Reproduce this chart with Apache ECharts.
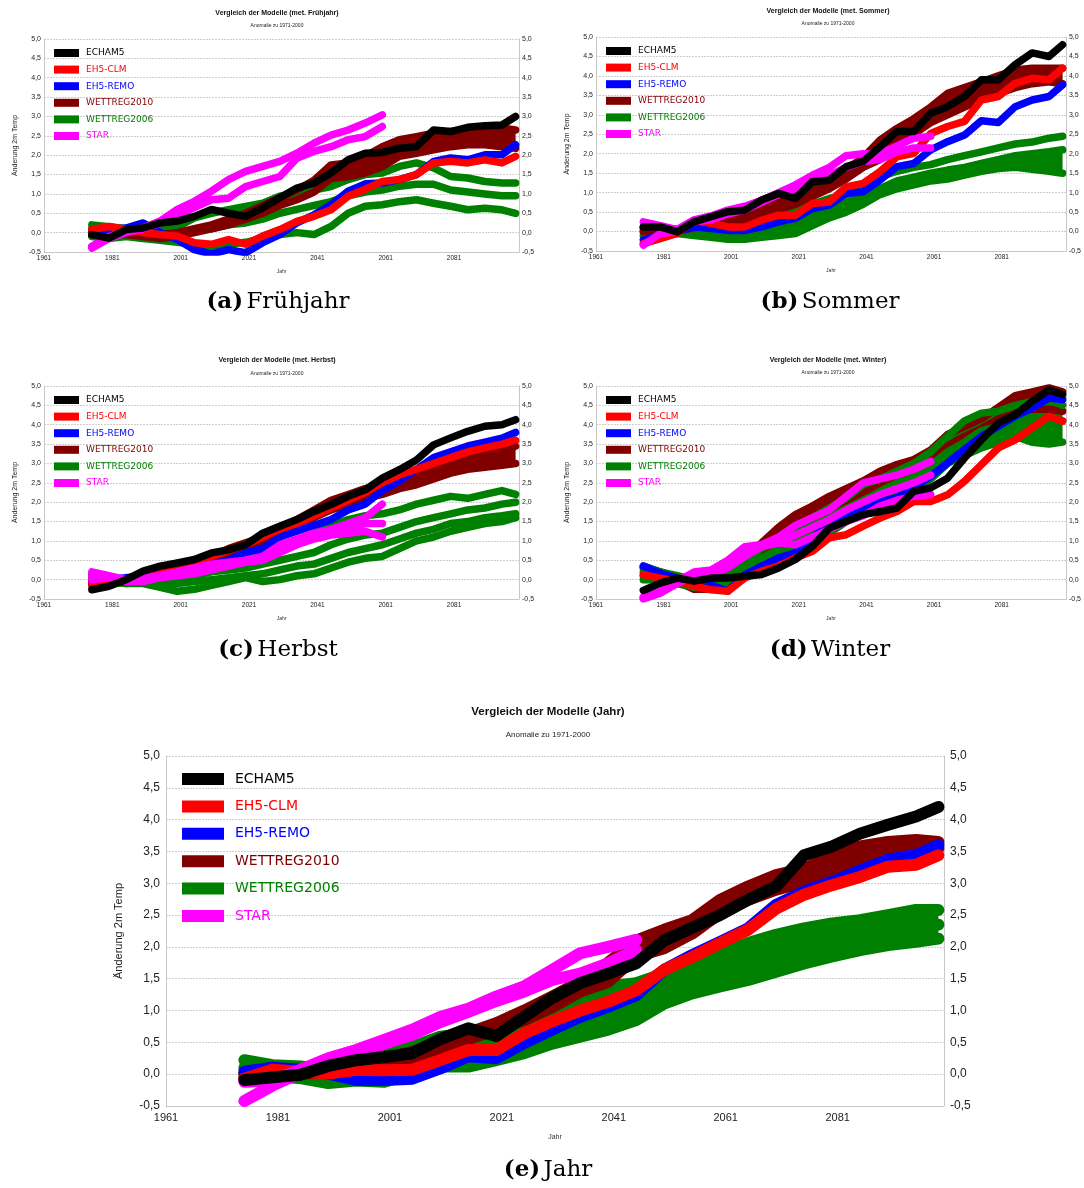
<!DOCTYPE html>
<html><head><meta charset="utf-8">
<script src="https://cdn.jsdelivr.net/npm/echarts@6/dist/echarts.min.js"></script>
<style>html,body{margin:0;padding:0;background:#fff}#c{width:1084px;height:1188px}</style>
</head><body><div id="c"></div>
<script>
// ---------- data ----------
const years = [1975,1980,1985,1990,1995,2000,2005,2010,2015,2020,2025,2030,2035,2040,2045,2050,2055,2060,2065,2070,2075,2080,2085,2090,2095,2099];
const starYears = [1975,1980,1985,1990,1995,2000,2005,2010,2015,2020,2025,2030,2035,2040,2045,2050,2055,2060];
const starYearsJahr = [1975,1980,1985,1990,1995,2000,2005,2010,2015,2020,2025,2030,2035,2040,2045];
const yTicks = [-0.5,0,0.5,1,1.5,2,2.5,3,3.5,4,4.5,5];
const modelNames = ['ECHAM5','EH5-CLM','EH5-REMO','WETTREG2010','WETTREG2006','STAR'];
const modelColors = ['#000000','#ff0000','#0000ff','#800000','#008000','#ff00ff'];

// (a) Frühjahr
const a_echam5 = [-0.05,-0.14,0.08,0.12,0.25,0.3,0.42,0.6,0.5,0.42,0.64,0.9,1.15,1.28,1.54,1.88,2.05,2.07,2.18,2.22,2.65,2.61,2.72,2.76,2.78,3.0];
const a_clm = [0.08,0.16,0.08,0.0,-0.05,-0.09,-0.26,-0.3,-0.18,-0.3,-0.09,0.08,0.29,0.42,0.59,0.94,1.12,1.32,1.37,1.5,1.8,1.84,1.8,1.88,1.8,1.97];
const a_remo = [0.08,0.08,0.12,0.25,0.0,-0.18,-0.44,-0.55,-0.44,-0.52,-0.26,-0.05,0.25,0.46,0.72,1.07,1.26,1.28,1.37,1.5,1.84,1.93,1.88,2.01,2.01,2.27];
const a_w2010_hi = [0.05,0.1,0.05,0.0,-0.05,0.0,0.1,0.2,0.35,0.5,0.7,0.9,1.1,1.35,1.75,1.8,1.97,2.22,2.4,2.48,2.57,2.61,2.65,2.7,2.7,2.65];
const a_w2010_lo = [-0.05,0.0,-0.05,-0.1,-0.15,-0.1,0.0,0.1,0.2,0.35,0.5,0.7,0.85,1.05,1.4,1.45,1.54,1.7,1.97,2.05,2.14,2.22,2.27,2.27,2.22,2.18];
const a_w2006_hi = [0.2,0.15,0.1,0.05,0.1,0.15,0.38,0.5,0.59,0.68,0.76,0.94,1.02,1.1,1.19,1.37,1.5,1.54,1.71,1.8,1.67,1.45,1.41,1.32,1.28,1.28];
const a_w2006_mid = [0.05,0.0,0.0,-0.05,-0.05,0.0,0.05,0.1,0.2,0.25,0.35,0.5,0.6,0.7,0.8,0.95,1.05,1.1,1.2,1.25,1.25,1.1,1.05,1.0,0.95,0.95];
const a_w2006_lo = [-0.1,-0.15,-0.1,-0.15,-0.2,-0.25,-0.3,-0.35,-0.3,-0.25,-0.15,-0.05,0.0,-0.05,0.16,0.5,0.68,0.72,0.8,0.85,0.76,0.68,0.59,0.63,0.59,0.5];
const a_star_hi = [-0.35,-0.1,0.05,0.12,0.3,0.6,0.81,1.07,1.37,1.58,1.71,1.84,2.05,2.31,2.52,2.65,2.83,3.04];
const a_star_lo = [-0.4,-0.15,0.0,0.1,0.25,0.45,0.65,0.85,0.89,1.19,1.32,1.45,1.92,2.1,2.22,2.4,2.48,2.74];

// (b) Sommer
const b_echam5 = [0.12,0.12,-0.01,0.25,0.38,0.51,0.55,0.81,0.98,0.85,1.28,1.32,1.67,1.8,2.18,2.57,2.57,3.04,3.21,3.47,3.9,3.9,4.29,4.59,4.5,4.8];
const b_clm = [-0.31,-0.18,-0.05,0.29,0.21,0.12,0.12,0.29,0.42,0.42,0.72,0.76,1.15,1.24,1.54,1.92,2.01,2.52,2.7,2.83,3.38,3.47,3.81,3.94,3.9,4.2];
const b_remo = [-0.22,-0.09,0.0,0.12,0.08,0.03,0.03,0.12,0.25,0.34,0.59,0.68,0.98,1.02,1.32,1.67,1.75,2.1,2.31,2.48,2.85,2.8,3.21,3.38,3.47,3.77];
const b_w2010_hi = [0.1,0.12,0.05,0.2,0.25,0.3,0.45,0.6,0.8,1.0,1.2,1.4,1.6,1.9,2.35,2.65,2.9,3.2,3.55,3.7,3.85,4.0,4.15,4.2,4.2,4.2];
const b_w2010_lo = [0.0,0.05,0.0,0.1,0.15,0.2,0.3,0.4,0.55,0.7,0.9,1.1,1.35,1.65,1.85,2.2,2.5,2.8,3.0,3.2,3.4,3.55,3.7,3.8,3.85,3.8];
const b_w2006_hi = [0.1,0.12,0.05,0.0,-0.02,0.05,0.1,0.25,0.4,0.55,0.7,0.85,0.95,1.1,1.4,1.55,1.65,1.72,1.85,1.95,2.05,2.15,2.25,2.3,2.4,2.45];
const b_w2006_mid = [0.0,0.02,0.0,-0.05,-0.08,-0.1,-0.05,0.05,0.15,0.25,0.4,0.6,0.75,0.9,1.1,1.3,1.4,1.5,1.58,1.65,1.75,1.85,1.95,2.0,2.05,2.1];
const b_w2006_lo = [-0.1,-0.1,-0.05,-0.1,-0.15,-0.2,-0.2,-0.15,-0.1,-0.05,0.15,0.35,0.5,0.7,0.95,1.1,1.2,1.3,1.35,1.45,1.55,1.62,1.65,1.6,1.55,1.5];
const b_star_hi = [0.25,0.15,0.05,0.3,0.4,0.55,0.65,0.8,1.0,1.2,1.45,1.65,1.95,2.0,2.0,2.2,2.4,2.45];
const b_star_lo = [-0.35,-0.05,0.0,0.25,0.3,0.45,0.55,0.75,0.95,1.1,1.3,1.45,1.65,1.8,1.85,2.05,2.15,2.15];

// (c) Herbst
const c_echam5 = [-0.26,-0.17,0.0,0.22,0.35,0.43,0.52,0.69,0.77,0.9,1.2,1.38,1.55,1.76,1.94,2.15,2.32,2.62,2.84,3.09,3.48,3.66,3.83,3.96,4.0,4.13];
const c_clm = [-0.1,-0.05,0.0,0.15,0.25,0.35,0.45,0.6,0.75,0.9,1.1,1.3,1.45,1.65,1.85,2.05,2.25,2.5,2.7,2.85,3.0,3.15,3.3,3.4,3.5,3.6];
const c_remo = [-0.05,0.0,0.05,0.1,0.1,0.15,0.3,0.4,0.5,0.7,0.8,1.1,1.25,1.4,1.55,1.8,1.95,2.3,2.55,2.85,3.15,3.3,3.45,3.55,3.65,3.8];
const c_w2010_hi = [-0.1,-0.05,0.0,0.15,0.25,0.35,0.45,0.6,0.8,0.95,1.1,1.3,1.55,1.8,2.05,2.2,2.35,2.45,2.6,2.8,2.95,3.1,3.2,3.3,3.35,3.45];
const c_w2010_lo = [-0.15,-0.1,-0.05,0.05,0.15,0.25,0.35,0.45,0.6,0.7,0.9,1.1,1.35,1.6,1.8,1.95,2.1,2.2,2.35,2.45,2.6,2.75,2.85,2.9,2.95,3.0];
const c_w2006_hi = [0.15,0.05,0.0,0.1,0.2,0.4,0.45,0.55,0.6,0.7,0.75,0.9,1.0,1.2,1.4,1.55,1.65,1.7,1.8,1.95,2.05,2.15,2.1,2.2,2.3,2.2];
const c_w2006_m1 = [0.05,0.0,-0.05,0.0,0.05,0.0,0.1,0.2,0.25,0.3,0.4,0.5,0.6,0.7,0.9,1.05,1.15,1.2,1.35,1.5,1.6,1.7,1.8,1.85,1.95,2.0];
const c_w2006_m2 = [0.0,-0.05,-0.1,-0.05,-0.1,-0.1,-0.05,0.0,0.05,0.1,0.15,0.25,0.35,0.4,0.55,0.7,0.8,0.9,1.05,1.2,1.3,1.45,1.5,1.6,1.65,1.7];
const c_w2006_lo = [0.0,-0.05,-0.1,-0.1,-0.2,-0.3,-0.25,-0.15,-0.05,0.05,-0.05,0.0,0.1,0.15,0.3,0.45,0.55,0.6,0.8,1.0,1.1,1.25,1.35,1.45,1.5,1.6];
const c_star_hi = [0.2,0.1,0.0,0.05,0.1,0.2,0.3,0.4,0.45,0.5,0.6,0.9,1.05,1.2,1.3,1.45,1.6,1.95];
const c_star_mid = [0.1,0.05,-0.05,0.0,0.1,0.15,0.25,0.3,0.4,0.5,0.55,0.75,0.95,1.1,1.2,1.35,1.45,1.45];
const c_star_lo = [0.0,0.05,-0.05,-0.05,0.05,0.1,0.15,0.25,0.35,0.45,0.5,0.7,0.9,1.05,1.15,1.2,1.25,1.1];

// (d) Winter
const d_echam5 = [-0.28,-0.09,0.04,-0.04,0.04,0.04,0.09,0.13,0.3,0.52,0.86,1.33,1.51,1.68,1.76,1.85,2.28,2.37,2.62,3.14,3.61,4.04,4.26,4.6,4.9,4.78];
const d_clm = [0.13,0.04,-0.04,-0.17,-0.26,-0.3,0.04,0.22,0.35,0.56,0.73,1.08,1.16,1.38,1.59,1.76,2.02,2.02,2.19,2.54,2.97,3.4,3.61,3.92,4.22,4.09];
const d_remo = [0.35,0.17,0.04,-0.09,-0.13,-0.3,0.13,0.35,0.56,0.69,1.08,1.42,1.64,1.85,2.02,2.11,2.37,2.67,3.01,3.36,3.7,3.96,4.22,4.43,4.69,4.65];
const d_w2010_hi = [0.3,0.2,0.05,-0.2,-0.15,0.1,0.55,0.95,1.35,1.68,1.9,2.15,2.35,2.55,2.8,2.97,3.1,3.35,3.75,3.95,4.15,4.45,4.75,4.85,4.95,4.85];
const d_w2010_lo = [0.1,0.05,-0.05,-0.25,-0.25,-0.15,0.25,0.7,1.1,1.4,1.6,1.85,2.05,2.25,2.5,2.7,2.85,3.1,3.45,3.7,3.9,4.15,4.35,4.4,4.4,4.35];
const d_w2006_hi = [0.35,0.2,0.1,0.0,0.0,0.1,0.45,0.8,1.05,1.35,1.6,1.85,2.1,2.45,2.6,2.8,3.0,3.3,3.7,4.1,4.3,4.35,4.5,4.6,4.65,4.5];
const d_w2006_mid = [0.2,0.1,0.0,-0.1,-0.1,0.0,0.3,0.55,0.8,1.05,1.3,1.55,1.8,2.05,2.25,2.45,2.65,2.95,3.3,3.55,3.85,3.95,4.1,4.2,4.2,4.1];
const d_w2006_lo = [0.0,0.0,-0.1,-0.2,-0.2,-0.15,0.1,0.35,0.6,0.8,1.0,1.2,1.5,1.8,1.9,2.1,2.3,2.6,3.0,3.2,3.4,3.55,3.7,3.55,3.5,3.55];
const d_star_hi = [-0.45,-0.3,-0.05,0.2,0.25,0.5,0.85,0.9,1.1,1.4,1.6,1.8,2.15,2.5,2.6,2.7,2.85,3.05];
const d_star_mid = [-0.48,-0.32,-0.08,0.15,0.2,0.4,0.7,0.88,1.0,1.15,1.35,1.55,1.8,2.0,2.2,2.35,2.5,2.7];
const d_star_lo = [-0.5,-0.35,-0.1,0.1,0.15,0.3,0.6,0.85,0.95,0.9,1.1,1.3,1.5,1.65,1.9,2.05,2.15,2.2];

// (e) Jahr
const e_echam5 = [-0.09,-0.05,-0.01,0.13,0.22,0.27,0.33,0.55,0.72,0.6,0.9,1.2,1.43,1.58,1.74,2.1,2.3,2.5,2.74,2.95,3.44,3.58,3.78,3.92,4.05,4.2];
const e_clm = [-0.07,0.07,0.04,0.01,0.07,0.06,0.07,0.22,0.38,0.38,0.64,0.83,1.0,1.14,1.32,1.64,1.84,2.06,2.27,2.6,2.82,2.97,3.1,3.26,3.29,3.44];
const e_remo = [0.04,0.1,0.07,0.01,-0.09,-0.09,-0.07,0.09,0.28,0.25,0.49,0.7,0.9,1.06,1.24,1.64,1.87,2.08,2.29,2.66,2.87,3.02,3.2,3.37,3.44,3.6];
const e_w2010_hi = [0.0,0.05,0.05,0.12,0.18,0.25,0.35,0.5,0.65,0.8,1.0,1.22,1.45,1.75,2.1,2.27,2.42,2.74,2.95,3.13,3.23,3.42,3.58,3.65,3.68,3.65];
const e_w2010_lo = [-0.05,0.0,0.0,0.05,0.1,0.15,0.25,0.4,0.55,0.7,0.85,1.05,1.3,1.45,1.85,1.98,2.21,2.53,2.74,2.9,3.02,3.2,3.37,3.47,3.52,3.55];
const e_w2006_hi = [0.22,0.14,0.12,0.07,0.2,0.33,0.43,0.59,0.64,0.75,0.9,1.11,1.27,1.38,1.43,1.58,1.69,1.9,2.06,2.19,2.29,2.37,2.42,2.5,2.58,2.58];
const e_w2006_mid = [0.1,0.05,0.0,-0.05,0.0,0.1,0.2,0.35,0.4,0.5,0.6,0.8,0.95,1.05,1.15,1.35,1.5,1.65,1.8,1.95,2.05,2.15,2.2,2.25,2.3,2.35];
const e_w2006_lo = [0.01,-0.04,-0.06,-0.14,-0.1,-0.12,0.01,0.12,0.12,0.22,0.33,0.48,0.59,0.7,0.85,1.11,1.27,1.38,1.48,1.61,1.74,1.85,1.95,2.03,2.08,2.13];
const e_star_hi = [-0.12,-0.1,0.07,0.25,0.38,0.54,0.7,0.9,1.03,1.22,1.38,1.64,1.9,2.0,2.11];
const e_star_lo = [-0.42,-0.18,0.02,0.2,0.32,0.48,0.62,0.82,0.98,1.15,1.3,1.48,1.58,1.74,1.95];

// ---------- panels ----------
// lines: [modelIndex, values, years?]; bands: [modelIndex, upper, lower]
const panels = [
  {grid:{left:44,top:39,width:475,height:213}, title:'Vergleich der Modelle (met. Frühjahr)', tx:277, ty:13, sy:26,
   cap:['(a)','Frühjahr'], cx:278, cy:302, lg:{left:54,top:47}, big:false,
   bands:[[3,a_w2010_hi,a_w2010_lo]],
   lines:[[4,a_w2006_hi],[4,a_w2006_mid],[4,a_w2006_lo],[3,a_w2010_hi],[3,a_w2010_lo],[2,a_remo],[1,a_clm],[5,a_star_hi,starYears],[5,a_star_lo,starYears],[0,a_echam5]]},
  {grid:{left:596,top:37,width:473,height:214}, title:'Vergleich der Modelle (met. Sommer)', tx:828, ty:11, sy:24,
   cap:['(b)','Sommer'], cx:830, cy:302, lg:{left:606,top:45}, big:false,
   bands:[[4,b_w2006_mid,b_w2006_lo],[3,b_w2010_hi,b_w2010_lo]],
   lines:[[4,b_w2006_hi],[4,b_w2006_mid],[4,b_w2006_lo],[3,b_w2010_hi],[3,b_w2010_lo],[2,b_remo],[1,b_clm],[5,b_star_hi,starYears],[5,b_star_lo,starYears],[0,b_echam5]]},
  {grid:{left:44,top:386,width:475,height:213}, title:'Vergleich der Modelle (met. Herbst)', tx:277, ty:360, sy:374,
   cap:['(c)','Herbst'], cx:278, cy:650, lg:{left:54,top:394}, big:false,
   bands:[[3,c_w2010_hi,c_w2010_lo]],
   lines:[[4,c_w2006_hi],[4,c_w2006_m1],[4,c_w2006_m2],[4,c_w2006_lo],[3,c_w2010_hi],[3,c_w2010_lo],[2,c_remo],[1,c_clm],[5,c_star_hi,starYears],[5,c_star_mid,starYears],[5,c_star_lo,starYears],[0,c_echam5]]},
  {grid:{left:596,top:386,width:473,height:213}, title:'Vergleich der Modelle (met. Winter)', tx:828, ty:360, sy:373,
   cap:['(d)','Winter'], cx:830, cy:650, lg:{left:606,top:394}, big:false,
   bands:[[3,d_w2010_hi,d_w2010_lo],[4,d_w2006_hi,d_w2006_lo]],
   lines:[[3,d_w2010_hi],[3,d_w2010_lo],[4,d_w2006_hi],[4,d_w2006_mid],[4,d_w2006_lo],[2,d_remo],[1,d_clm],[5,d_star_hi,starYears],[5,d_star_mid,starYears],[5,d_star_lo,starYears],[0,d_echam5]]},
  {grid:{left:166,top:756,width:778,height:350}, title:'Vergleich der Modelle (Jahr)', tx:548, ty:712, sy:735,
   cap:['(e)','Jahr'], cx:548, cy:1170, lg:{left:182,top:770}, big:true,
   bands:[[4,e_w2006_hi,e_w2006_lo],[3,e_w2010_hi,e_w2010_lo]],
   lines:[[4,e_w2006_hi],[4,e_w2006_mid],[4,e_w2006_lo],[3,e_w2010_hi],[3,e_w2010_lo],[2,e_remo],[1,e_clm],[5,e_star_hi,starYearsJahr],[5,e_star_lo,starYearsJahr],[0,e_echam5]]}
];

const fmt = v => v.toFixed(1).replace('.', ',');
const grids=[], xAxes=[], yAxes=[], series=[], titles=[], legends=[], graphics=[];
panels.forEach((p, i) => {
  const B = p.big;
  grids.push(Object.assign({containLabel:false}, p.grid));
  xAxes.push({type:'value', gridIndex:i, min:1961, max:2100, interval:20,
    axisLine:{show:true, onZero:false, lineStyle:{color:'#c8c8c8'}}, axisTick:{show:false}, splitLine:{show:false},
    axisLabel:{formatter: v => String(v), showMaxLabel:false, showMinLabel:true, fontSize:B?11:6.5, fontFamily:'Liberation Sans', color:'#222', margin:B?6:3},
    name:'Jahr', nameLocation:'middle', nameGap:B?28:17,
    nameTextStyle:{fontSize:B?7:5, fontFamily:'Liberation Sans', color:'#333'}});
  const yBase = {type:'value', gridIndex:i, min:-0.5, max:5, interval:0.5,
    axisLine:{show:true, onZero:false, lineStyle:{color:'#c8c8c8'}}, axisTick:{show:false},
    axisLabel:{formatter:fmt, fontSize:B?12:7, fontFamily:'Liberation Sans', color:'#222', margin:B?6:3}};
  yAxes.push(Object.assign({}, yBase, {position:'left',
    splitLine:{show:true, lineStyle:{color:'#cfcfcf', type:[2,1], width:1}},
    name:'Änderung 2m Temp', nameLocation:'middle', nameGap:B?42:25, nameRotate:90,
    nameTextStyle:{fontSize:B?11:7, fontFamily:'Liberation Sans', color:'#222'}}));
  yAxes.push(Object.assign({}, yBase, {position:'right', splitLine:{show:false}}));
  const lw = B ? 12 : 7.5;
  // filled bands between the upper and lower realisation of an ensemble
  p.bands.forEach(([m, hi, lo]) => {
    series.push({type:'custom', xAxisIndex:i, yAxisIndex:2*i, silent:true, clip:true,
      itemStyle:{color:modelColors[m]}, data:[0], animation:false,
      renderItem:(params, api) => {
        const up = hi.map((v, k) => api.coord([years[k], v]));
        const dn = lo.map((v, k) => api.coord([years[k], v])).reverse();
        return {type:'polygon', shape:{points:up.concat(dn)}, style:{fill:modelColors[m]}};
      }});
  });
  p.lines.forEach(([m, vals, yrs]) => {
    const ys = yrs || years;
    series.push({type:'line', name:modelNames[m], xAxisIndex:i, yAxisIndex:2*i,
      data: vals.map((v, k) => [ys[k], v]), showSymbol:false, symbol:'none', silent:true,
      color:modelColors[m], lineStyle:{width:lw, color:modelColors[m], cap:'round', join:'round'},
      animation:false, clip:true});
  });
  titles.push({text:p.title, left:p.tx, top:p.ty - (B?6:3.5), textAlign:'center', padding:0,
    textStyle:{fontSize:B?11.5:7, fontWeight:'bold', fontFamily:'Liberation Sans', color:'#111'}});
  titles.push({text:'Anomalie zu 1971-2000', left:p.tx, top:p.sy - (B?4:2.5), textAlign:'center', padding:0,
    textStyle:{fontSize:B?8:5, fontWeight:'normal', fontFamily:'Liberation Sans', color:'#222'}});
  legends.push({orient:'vertical', left:p.lg.left, top:p.lg.top, icon:'rect', selectedMode:false, padding:0,
    itemWidth:B?42:25, itemHeight:B?12:8, itemGap:B?9.4:4.6,
    itemStyle:{borderWidth:0},
    textStyle:{fontFamily:'DejaVu Sans', fontSize:B?14:9, lineHeight:B?18:12, padding:[0,0,0,B?6:2]},
    data: modelNames.map((n, k) => ({name:n, textStyle:{color:modelColors[k]}}))});
  graphics.push({type:'text', x:p.cx, y:p.cy,
    style:{text:'{b|' + p.cap[0] + '} {n|' + p.cap[1] + '}', align:'center', verticalAlign:'middle',
      rich:{b:{fontFamily:'DejaVu Serif', fontWeight:'bold', fontSize:23, fill:'#000'},
            n:{fontFamily:'DejaVu Serif', fontWeight:'normal', fontSize:23, fill:'#000'}}}});
});

const chart = echarts.init(document.getElementById('c'), null, {renderer:'canvas'});
chart.setOption({animation:false, backgroundColor:'#fff', title:titles, legend:legends, grid:grids,
  xAxis:xAxes, yAxis:yAxes, series:series, graphic:graphics});
</script></body></html>
